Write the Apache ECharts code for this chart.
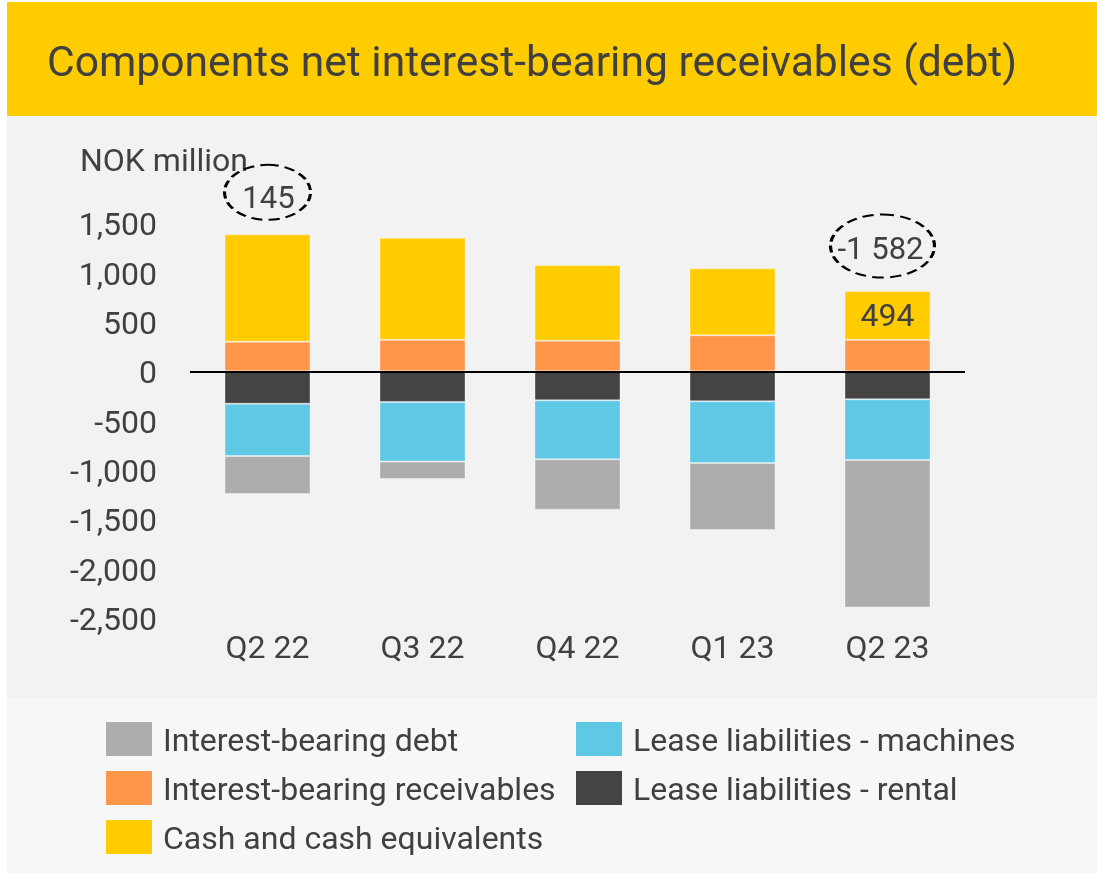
<!DOCTYPE html>
<html>
<head>
<meta charset="utf-8">
<script src="https://cdn.jsdelivr.net/npm/echarts@6/dist/echarts.min.js"></script>
<style>
  html, body { margin: 0; padding: 0; background: #ffffff; }
  #chart { width: 1097px; height: 875px; }
</style>
</head>
<body>
<div id="chart"></div>
<script>
// ---- Data (NOK million) ----
const categories = ['Q2 22', 'Q3 22', 'Q4 22', 'Q1 23', 'Q2 23'];
const receivables = [300, 320, 310, 365, 320];
const cash = [1089, 1035, 768, 679, 494];
const leaseRental = [-329, -311, -294, -304, -284];
const leaseMachines = [-530, -605, -598, -626, -615];
const debt = [-385, -176, -511, -679, -1497];
const netLabels = ['145', '', '', '', '-1 582'];
const cashLabels = ['', '', '', '', '494'];
const yMin = -2500, yMax = 1500, yStep = 500;

const seriesNames = {
  debt: 'Interest-bearing debt',
  machines: 'Lease liabilities - machines',
  receivables: 'Interest-bearing receivables',
  rental: 'Lease liabilities - rental',
  cash: 'Cash and cash equivalents'
};
const colors = {
  debt: '#ADADAD',
  machines: '#5EC8E5',
  receivables: '#FF9649',
  rental: '#444444',
  cash: '#FFCC00'
};
const textColor = '#404040';
const fontFamily = 'Roboto';

const ellipsePath = 'path://M50,0 C77.6,0 100,22.4 100,50 C100,77.6 77.6,100 50,100 C22.4,100 0,77.6 0,50 C0,22.4 22.4,0 50,0 Z';
const annotStyle = [
  { size: [86, 55], offset: [0, -42], labelOffset: [1, 8] },
  null, null, null,
  { size: [104, 63], offset: [-5, -45], labelOffset: [-2, 5] }
];
const annotData = [];
netLabels.forEach(function (lab, i) {
  if (lab) {
    annotData.push({
      value: [i, receivables[i] + cash[i]],
      name: lab,
      symbolSize: annotStyle[i].size,
      symbolOffset: annotStyle[i].offset,
      label: { offset: annotStyle[i].labelOffset }
    });
  }
});

function barSeries(key, data, extra) {
  return Object.assign({
    name: seriesNames[key],
    type: 'bar',
    stack: 'total',
    data: data,
    barWidth: 86,
    itemStyle: { color: colors[key], borderColor: 'rgba(255,255,255,0.35)', borderWidth: 1 },
    emphasis: { disabled: true }
  }, extra || {});
}

const shiftedText = { fontSize: 32, color: textColor, fontFamily: fontFamily, padding: [8, 0, 0, 0] };

const chart = echarts.init(document.getElementById('chart'), null, { renderer: 'canvas' });
const legendCommon = {
  orient: 'vertical',
  top: 722,
  padding: 0,
  icon: 'rect',
  itemWidth: 46,
  itemHeight: 34,
  itemGap: 12,
  itemStyle: { borderWidth: 0 },
  selectedMode: false,
  formatter: function (name) { return '{t|' + name + '}'; },
  textStyle: {
    fontSize: 32, color: textColor, fontFamily: fontFamily, padding: [0, 0, 0, 6],
    rich: { t: shiftedText }
  }
};
chart.setOption({
  animation: false,
  textStyle: { fontFamily: fontFamily },
  graphic: [
    { type: 'rect', z: -10, shape: { x: 7, y: 2, width: 1090, height: 114 }, style: { fill: '#FFCC00' } },
    { type: 'rect', z: -10, shape: { x: 7, y: 116, width: 1090, height: 582 }, style: { fill: '#F2F2F2' } },
    { type: 'rect', z: -10, shape: { x: 7, y: 698, width: 1090, height: 175 }, style: { fill: '#F7F7F7' } },
    { type: 'text', x: 47, y: 65, style: { text: 'Components net interest-bearing receivables (debt)', fontSize: 42.6, fontFamily: fontFamily, fill: textColor, verticalAlign: 'middle' } },
    { type: 'text', x: 80, y: 163, style: { text: 'NOK million', fontSize: 32, fontFamily: fontFamily, fill: textColor, verticalAlign: 'middle' } }
  ],
  legend: [
    Object.assign({ left: 106, data: [seriesNames.debt, seriesNames.receivables, seriesNames.cash] }, legendCommon),
    Object.assign({ left: 576, data: [seriesNames.machines, seriesNames.rental] }, legendCommon)
  ],
  grid: { left: 190, right: 132, top: 223.4, bottom: 257.2, containLabel: false },
  xAxis: {
    type: 'category',
    data: categories,
    axisLine: { show: false, onZero: false },
    axisTick: { show: false },
    axisLabel: { fontSize: 32, color: textColor, margin: 16, fontFamily: fontFamily },
    splitLine: { show: false }
  },
  yAxis: {
    type: 'value',
    min: yMin,
    max: yMax,
    interval: yStep,
    axisLine: { show: false },
    axisTick: { show: false },
    splitLine: { show: false },
    axisLabel: {
      fontSize: 32, color: textColor, margin: 33, fontFamily: fontFamily,
      rich: { v: shiftedText },
      formatter: function (v) { return '{v|' + v.toLocaleString('en-US') + '}'; }
    }
  },
  series: [
    barSeries('receivables', receivables),
    barSeries('cash', cash, {
      label: {
        show: true, position: 'inside', fontSize: 32, color: textColor, fontFamily: fontFamily,
        textBorderWidth: 0, offset: [0, 3],
        formatter: function (p) { return cashLabels[p.dataIndex]; }
      }
    }),
    barSeries('rental', leaseRental),
    barSeries('machines', leaseMachines),
    barSeries('debt', debt, {
      markLine: {
        silent: true,
        symbol: 'none',
        label: { show: false },
        lineStyle: { color: '#000000', width: 2, type: 'solid' },
        data: [{ yAxis: 0 }]
      }
    }),
    {
      type: 'scatter',
      data: annotData,
      symbol: ellipsePath,
      z: 6,
      silent: true,
      itemStyle: { color: 'rgba(0,0,0,0)', borderColor: '#000000', borderWidth: 2.5, borderType: [9, 5], opacity: 1 },
      label: {
        show: true, position: 'inside', fontSize: 31, color: textColor, fontFamily: fontFamily,
        textBorderWidth: 0, opacity: 1,
        formatter: function (p) { return p.name; }
      },
      emphasis: { disabled: true }
    }
  ]
});
</script>
</body>
</html>
